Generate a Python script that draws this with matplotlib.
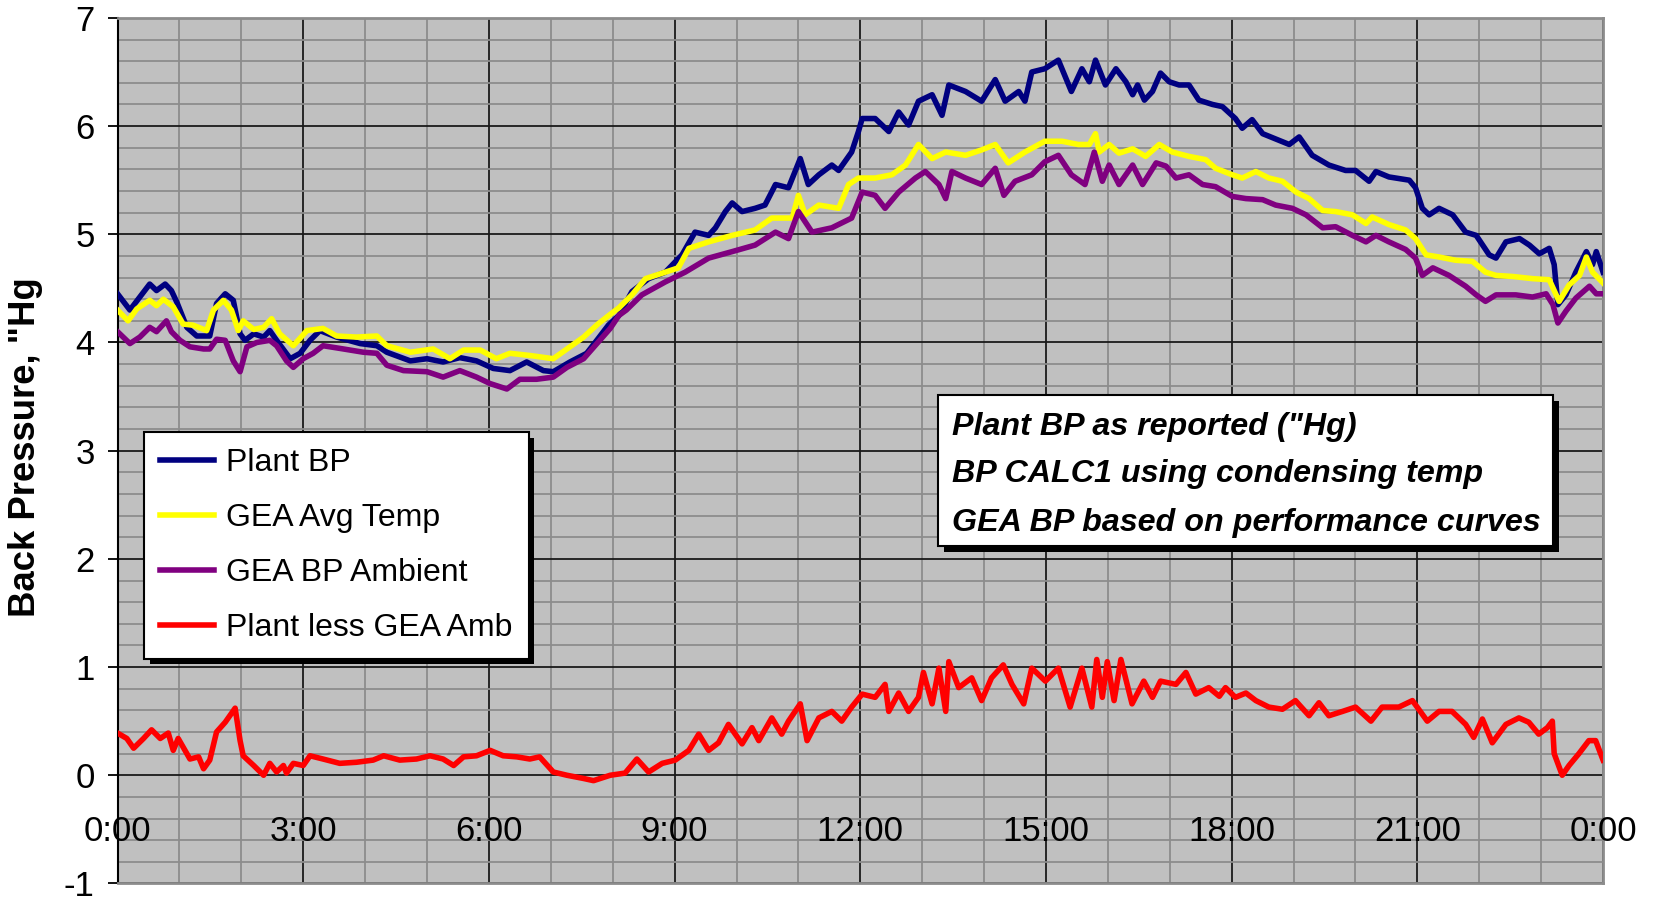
import matplotlib
matplotlib.use("Agg")
import matplotlib.pyplot as plt
from matplotlib.patches import Rectangle
import matplotlib.patheffects as pe

plt.rcParams['font.family'] = ['Liberation Sans', 'DejaVu Sans']

# ---------------- data (hours since midnight, back pressure "Hg) ----------------
plant_t = [0, 0.2, 0.36, 0.52, 0.63, 0.77, 0.87, 0.96, 1.12, 1.28, 1.49, 1.6, 1.74, 1.87, 1.98,
           2.06, 2.2, 2.36, 2.46, 2.57, 2.79, 2.95, 3.11, 3.27, 3.54, 3.92, 4.19, 4.35, 4.73, 5.0,
           5.26, 5.53, 5.8, 6.07, 6.34, 6.61, 6.88, 7.04, 7.31, 7.58, 7.77, 7.93, 8.1, 8.31, 8.58,
           8.85, 9.12, 9.33, 9.55, 9.66, 9.82, 9.93, 10.09, 10.3, 10.46, 10.63, 10.84, 11.03, 11.16,
           11.33, 11.54, 11.65, 11.86, 11.97, 12.03, 12.24, 12.46, 12.62, 12.78, 12.94, 13.16, 13.32,
           13.43, 13.7, 13.96, 14.18, 14.34, 14.56, 14.66, 14.77, 14.98, 15.2, 15.41, 15.58, 15.7,
           15.8, 15.96, 16.13, 16.29, 16.4, 16.48, 16.59, 16.72, 16.85, 16.99, 17.15, 17.31, 17.47,
           17.69, 17.85, 18.06, 18.17, 18.33, 18.5, 18.76, 18.93, 19.09, 19.3, 19.57, 19.84, 20.0,
           20.22, 20.33, 20.54, 20.87, 20.97, 21.08, 21.19, 21.35, 21.57, 21.78, 21.95, 22.16, 22.27,
           22.43, 22.65, 22.81, 22.97, 23.13, 23.21, 23.27, 23.4, 23.56, 23.73, 23.83, 23.89, 24.0]
plant_bp = [4.45, 4.30, 4.42, 4.54, 4.48, 4.54, 4.48, 4.37, 4.14, 4.06, 4.06, 4.36, 4.45, 4.39, 4.08,
            4.02, 4.08, 4.05, 4.11, 4.02, 3.85, 3.90, 4.02, 4.11, 4.05, 3.99, 3.97, 3.91, 3.83, 3.85,
            3.82, 3.86, 3.83, 3.76, 3.74, 3.82, 3.74, 3.73, 3.82, 3.90, 4.04, 4.16, 4.25, 4.47, 4.59,
            4.65, 4.81, 5.02, 4.99, 5.06, 5.21, 5.29, 5.21, 5.24, 5.27, 5.46, 5.43, 5.70, 5.46,
            5.55, 5.64, 5.59, 5.76, 5.95, 6.07, 6.07, 5.95, 6.13, 6.01, 6.23, 6.29, 6.10,
            6.38, 6.32, 6.23, 6.43, 6.23, 6.32, 6.23, 6.50, 6.53, 6.61, 6.32, 6.53, 6.41,
            6.61, 6.38, 6.53, 6.41, 6.29, 6.38, 6.24, 6.32, 6.49, 6.41, 6.38, 6.38, 6.24,
            6.20, 6.18, 6.07, 5.98, 6.06, 5.93, 5.87, 5.83, 5.90, 5.73, 5.64, 5.59, 5.59,
            5.49, 5.58, 5.53, 5.50, 5.43, 5.24, 5.18, 5.24, 5.18, 5.02, 4.99, 4.81, 4.78,
            4.93, 4.96, 4.90, 4.82, 4.87, 4.72, 4.35, 4.44, 4.65, 4.84, 4.72, 4.84, 4.65]

avg_t = [0, 0.17, 0.31, 0.52, 0.63, 0.74, 0.9, 1.06, 1.22, 1.44, 1.55, 1.71, 1.84, 1.95, 2.03, 2.2,
         2.36, 2.49, 2.62, 2.84, 3.06, 3.32, 3.54, 3.86, 4.19, 4.35, 4.73, 5.1, 5.37, 5.59, 5.86,
         6.12, 6.34, 6.66, 7.04, 7.31, 7.53, 7.76, 7.96, 8.1, 8.31, 8.53, 8.85, 9.06, 9.23, 9.55,
         9.93, 10.3, 10.57, 10.9, 11.0, 11.11, 11.33, 11.65, 11.81, 11.97, 12.24, 12.51, 12.73,
         12.94, 13.16, 13.38, 13.7, 13.96, 14.18, 14.39, 14.66, 14.98, 15.26, 15.52, 15.7, 15.8,
         15.86, 16.02, 16.18, 16.4, 16.61, 16.83, 17.04, 17.31, 17.58, 17.74, 18.01, 18.17, 18.39,
         18.6, 18.82, 19.04, 19.25, 19.47, 19.68, 19.95, 20.17, 20.27, 20.54, 20.81, 20.97, 21.14,
         21.35, 21.62, 21.89, 22.1, 22.27, 22.54, 22.86, 23.13, 23.29, 23.45, 23.62, 23.73, 23.83,
         24.0]
avg_bp = [4.30, 4.20, 4.31, 4.39, 4.34, 4.40, 4.33, 4.17, 4.16, 4.11, 4.30, 4.39, 4.30, 4.11, 4.20, 4.12,
          4.14, 4.22, 4.08, 3.97, 4.11, 4.13, 4.06, 4.05, 4.06, 3.97, 3.91, 3.94, 3.85, 3.93, 3.93,
          3.85, 3.90, 3.88, 3.85, 3.96, 4.05, 4.17, 4.26, 4.32, 4.44, 4.59, 4.65, 4.69, 4.87, 4.93,
          4.99, 5.04, 5.15, 5.15, 5.36, 5.18, 5.27, 5.24, 5.46, 5.52, 5.52, 5.55, 5.64,
          5.83, 5.70, 5.76, 5.73, 5.78, 5.83, 5.66, 5.76, 5.86, 5.86, 5.83, 5.83, 5.93,
          5.76, 5.83, 5.75, 5.79, 5.72, 5.83, 5.76, 5.72, 5.69, 5.61, 5.55, 5.52, 5.58,
          5.52, 5.49, 5.39, 5.33, 5.22, 5.21, 5.18, 5.10, 5.16, 5.09, 5.04, 4.96, 4.81,
          4.79, 4.76, 4.75, 4.65, 4.62, 4.61, 4.59, 4.58, 4.38, 4.53, 4.62, 4.79, 4.65,
          4.55]

amb_t = [0, 0.2, 0.36, 0.52, 0.63, 0.79, 0.87, 1.01, 1.17, 1.39, 1.49, 1.6, 1.74, 1.87, 1.98, 2.09,
         2.25, 2.46, 2.57, 2.73, 2.84, 3.0, 3.16, 3.32, 3.65, 3.97, 4.19, 4.35, 4.62, 5.0, 5.26,
         5.53, 5.8, 6.02, 6.29, 6.5, 6.77, 7.04, 7.26, 7.53, 7.76, 7.96, 8.1, 8.22, 8.47, 8.85,
         9.17, 9.55, 9.93, 10.3, 10.63, 10.84, 11.0, 11.22, 11.54, 11.86, 12.03, 12.24, 12.4,
         12.62, 12.89, 13.05, 13.27, 13.38, 13.48, 13.7, 13.96, 14.18, 14.32, 14.5, 14.77, 14.98,
         15.2, 15.41, 15.63, 15.78, 15.91, 16.02, 16.18, 16.4, 16.56, 16.78, 16.94, 17.1, 17.31,
         17.53, 17.74, 18.01, 18.23, 18.5, 18.71, 18.98, 19.2, 19.47, 19.68, 19.95, 20.17, 20.33,
         20.54, 20.81, 20.97, 21.08, 21.25, 21.51, 21.78, 21.95, 22.1, 22.27, 22.59, 22.86, 23.08,
         23.19, 23.27, 23.4, 23.56, 23.78, 23.89, 24.0]
amb_bp = [4.10, 3.99, 4.05, 4.14, 4.10, 4.20, 4.10, 4.02, 3.96, 3.94, 3.94, 4.03, 4.02, 3.83, 3.73, 3.96,
          4.00, 4.02, 3.97, 3.83, 3.77, 3.85, 3.90, 3.97, 3.94, 3.91, 3.90, 3.79, 3.74, 3.73, 3.68,
          3.74, 3.68, 3.62, 3.57, 3.66, 3.66, 3.68, 3.77, 3.85, 4.00, 4.13, 4.25, 4.30, 4.44, 4.56,
          4.65, 4.78, 4.84, 4.90, 5.02, 4.96, 5.21, 5.02, 5.06, 5.15, 5.39, 5.36, 5.24,
          5.39, 5.52, 5.58, 5.46, 5.33, 5.58, 5.52, 5.46, 5.61, 5.36, 5.49, 5.55, 5.67,
          5.73, 5.55, 5.46, 5.76, 5.49, 5.64, 5.46, 5.64, 5.46, 5.66, 5.63, 5.52, 5.55,
          5.46, 5.44, 5.35, 5.33, 5.32, 5.27, 5.24, 5.18, 5.06, 5.07, 4.99, 4.93, 4.99,
          4.93, 4.86, 4.78, 4.62, 4.69, 4.62, 4.52, 4.44, 4.38, 4.44, 4.44, 4.42, 4.45,
          4.35, 4.18, 4.29, 4.41, 4.52, 4.45, 4.45]

diff_t = [0, 0.15, 0.26, 0.42, 0.55, 0.69, 0.82, 0.9, 0.98, 1.17, 1.31, 1.39, 1.49, 1.6, 1.74, 1.9,
          1.98, 2.03, 2.2, 2.36, 2.46, 2.57, 2.68, 2.73, 2.84, 3.0, 3.11, 3.32, 3.59, 3.86, 4.13,
          4.3, 4.56, 4.83, 5.05, 5.26, 5.43, 5.59, 5.8, 6.02, 6.23, 6.45, 6.66, 6.82, 7.04, 7.26,
          7.53, 7.69, 7.96, 8.2, 8.39, 8.58, 8.8, 9.01, 9.23, 9.39, 9.55, 9.71, 9.87, 10.09, 10.25,
          10.36, 10.57, 10.73, 10.84, 11.03, 11.14, 11.33, 11.54, 11.7, 11.86, 12.03, 12.24, 12.4,
          12.46, 12.62, 12.78, 12.94, 13.02, 13.16, 13.27, 13.38, 13.43, 13.59, 13.8, 13.96, 14.12,
          14.31, 14.45, 14.64, 14.77, 14.99, 15.2, 15.39, 15.58, 15.74, 15.82, 15.91, 15.99, 16.1,
          16.21, 16.39, 16.58, 16.72, 16.85, 17.1, 17.26, 17.42, 17.63, 17.8, 17.9, 18.06, 18.23,
          18.39, 18.6, 18.82, 19.03, 19.25, 19.41, 19.57, 19.79, 20.0, 20.25, 20.43, 20.7, 20.92,
          21.16, 21.35, 21.56, 21.78, 21.91, 22.05, 22.21, 22.43, 22.64, 22.8, 22.96, 23.1, 23.18,
          23.21, 23.34, 23.45, 23.61, 23.77, 23.88, 24.0]
diff_bp = [0.39, 0.34, 0.25, 0.34, 0.42, 0.34, 0.39, 0.23, 0.34, 0.15, 0.17, 0.06, 0.14, 0.40, 0.49, 0.62,
           0.32, 0.18, 0.09, 0.0, 0.11, 0.03, 0.09, 0.02, 0.11, 0.09, 0.18, 0.15, 0.11, 0.12, 0.14,
           0.18, 0.14, 0.15, 0.18, 0.15, 0.09, 0.17, 0.18, 0.23, 0.18, 0.17, 0.15, 0.17, 0.03, 0.0,
           -0.03, -0.05, 0.0, 0.02, 0.15, 0.03, 0.11, 0.14, 0.23, 0.38, 0.23, 0.30, 0.47, 0.29, 0.44,
           0.32, 0.53, 0.38, 0.50, 0.66, 0.32, 0.53, 0.59, 0.50, 0.63, 0.75, 0.72, 0.84,
           0.59, 0.76, 0.59, 0.72, 0.95, 0.66, 0.99, 0.59, 1.05, 0.81, 0.90, 0.69, 0.90,
           1.02, 0.84, 0.66, 0.99, 0.87, 0.99, 0.63, 0.99, 0.63, 1.07, 0.72, 1.05, 0.69,
           1.07, 0.66, 0.87, 0.72, 0.87, 0.84, 0.95, 0.75, 0.81, 0.73, 0.81, 0.72, 0.76,
           0.69, 0.63, 0.61, 0.69, 0.55, 0.67, 0.55, 0.59, 0.63, 0.50, 0.63, 0.63, 0.69,
           0.50, 0.59, 0.59, 0.47, 0.35, 0.52, 0.30, 0.47, 0.53, 0.49, 0.38, 0.44, 0.50,
           0.20, 0.0, 0.09, 0.20, 0.32, 0.32, 0.14]

series_labels = ['Plant BP', 'GEA Avg Temp', 'GEA BP Ambient', 'Plant less GEA Amb']
series_colors = ['#000080', '#FFFF00', '#800080', '#FF0000']

x_ticks = [0, 3, 6, 9, 12, 15, 18, 21, 24]
x_labels = ['0:00', '3:00', '6:00', '9:00', '12:00', '15:00', '18:00', '21:00', '0:00']
y_ticks = [-1, 0, 1, 2, 3, 4, 5, 6, 7]

note_lines = ['Plant BP as reported ("Hg)',
              'BP CALC1 using condensing temp',
              'GEA BP based on performance curves']

# ---------------- figure ----------------
fig = plt.figure(figsize=(16.53, 9.0), dpi=100)
ax = fig.add_axes([0.0711, 0.0184, 0.8987, 0.9617])
ax.set_facecolor('#C0C0C0')

ax.set_xlim(0, 24)
ax.set_ylim(-1, 7)

# grid
ax.set_xticks(x_ticks)
ax.set_xticks([h for h in range(25)], minor=True)
ax.set_yticks(y_ticks)
ax.set_yticks([i / 5 for i in range(-5, 36)], minor=True)
ax.grid(which='minor', color='#8C8C8C', linewidth=1.3, zorder=0)
ax.grid(which='major', color='#1A1A1A', linewidth=1.3, zorder=0)
ax.set_axisbelow(True)

xs = [plant_t, avg_t, amb_t, diff_t]
ys = [plant_bp, avg_bp, amb_bp, diff_bp]
lines = []
for x, y, lab, col in zip(xs, ys, series_labels, series_colors):
    ln, = ax.plot(x, y, color=col, linewidth=4.0, label=lab, solid_joinstyle='round', zorder=3)
    lines.append(ln)

# axes styling
ax.tick_params(axis='x', which='both', length=0, labelbottom=False)
ax.tick_params(axis='y', which='minor', length=0)
ax.tick_params(axis='y', which='major', length=7.5, width=1.3, color='black',
               labelsize=25, pad=9, direction='out')
ax.set_yticklabels([str(v) for v in y_ticks])
for side in ['top', 'right', 'bottom']:
    ax.spines[side].set_color('#8C8C8C')
    ax.spines[side].set_linewidth(2)
ax.spines['left'].set_color('black')
ax.spines['left'].set_linewidth(1.5)

# x labels inside plot area (category axis crossing at zero)
for xt, xl in zip(x_ticks, x_labels):
    ax.text(xt, -0.52, xl, ha='center', va='center', fontsize=25, zorder=5)

fig.text(0.0157, 0.503, 'Back Pressure, "Hg', rotation=90, ha='center', va='center',
         fontsize=26.3, fontweight='bold')

# legend
leg = ax.legend(handles=lines, loc='upper left', bbox_to_anchor=(0.0178, 0.5215),
                borderaxespad=0, fontsize=23, handlelength=1.7, handletextpad=0.38,
                labelspacing=0.78, borderpad=0.5, fancybox=False, framealpha=1,
                edgecolor='black', facecolor='white')
leg.get_frame().set_linewidth(1.5)
leg.legendPatch.set_path_effects([pe.SimplePatchShadow(offset=(4, -4), shadow_rgbFace='black', alpha=1),
                                  pe.Normal()])
for lh in leg.get_lines():
    lh.set_linewidth(4)

# annotation box
box = Rectangle((0.5523, 0.3898), 0.9663 - 0.5523, 0.5643 - 0.3898, transform=ax.transAxes,
                facecolor='white', edgecolor='black', linewidth=1.5, zorder=6)
box.set_path_effects([pe.SimplePatchShadow(offset=(4, -4), shadow_rgbFace='black', alpha=1),
                      pe.Normal()])
ax.add_patch(box)
for yy, txt in zip([0.5275, 0.4725, 0.4165], note_lines):
    ax.text(0.5618, yy, txt, transform=ax.transAxes, ha='left', va='center', fontsize=23.2,
            fontweight='bold', fontstyle='italic', zorder=7)

fig.savefig('out.png', dpi=100, facecolor='white')
